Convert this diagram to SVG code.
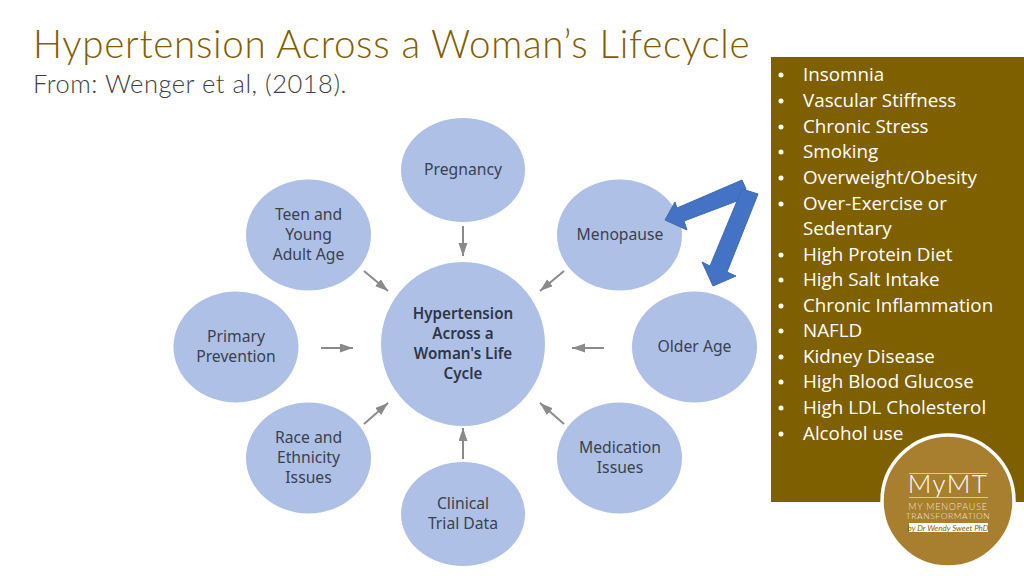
<svg xmlns="http://www.w3.org/2000/svg" width="1024" height="576" viewBox="0 0 1024 576">
<defs>
<marker id="ah" markerUnits="userSpaceOnUse" markerWidth="14" markerHeight="12" refX="13" refY="4.500" orient="auto"><path d="M0 0L13 4.500L0 9Z" fill="#8a8a8a"/></marker>
</defs>
<style>
.c{fill:#aec0e5}
.n{font-size:15.700px;fill:#3a4150;text-anchor:middle;font-family:"Noto Sans","Open Sans",sans-serif}
.b{font-size:15.200px;font-weight:600;fill:#2f3646;text-anchor:middle;font-family:"Noto Sans","Open Sans",sans-serif}
.l{font-size:18.800px;fill:#fff;font-family:"Open Sans","Noto Sans",sans-serif}
.k{stroke:#8a8a8a;stroke-width:2;fill:none;marker-end:url(#ah)}
.a{fill:#4472c4;stroke:#3f69b5;stroke-width:1}
.g{font-family:"Lato","Open Sans",sans-serif;font-weight:300;fill:#fff;text-anchor:middle}
.s{font-family:"Lato","Open Sans",sans-serif;font-weight:300;fill:#efe6d0;text-anchor:middle}
</style>
<rect width="1024" height="576" fill="#fff"/>
<text x="33" y="58" font-family="Lato,'Open Sans',sans-serif" font-weight="300" font-size="38.500" fill="#7f6000" letter-spacing="0.720">Hypertension Across a Woman’s Lifecycle</text>
<text x="33" y="93" font-family="Lato,'Open Sans',sans-serif" font-weight="300" font-size="25.500" fill="#404040" letter-spacing="0.520">From: Wenger et al, (2018).</text>
<g id="connectors">
<path class="k" d="M463 226V256"/>
<path class="k" d="M564 271L540 291"/>
<path class="k" d="M604 348H572"/>
<path class="k" d="M564 424L540 403"/>
<path class="k" d="M463 459V428"/>
<path class="k" d="M364 424L388 403"/>
<path class="k" d="M321 348H353"/>
<path class="k" d="M364 271L388 291"/>
</g>
<g id="center"><circle class="c" cx="463" cy="344" r="82"/>
<text class="b" x="463" y="319">Hypertension</text><text class="b" x="463" y="339">Across a</text><text class="b" x="463" y="359">Woman's Life</text><text class="b" x="463" y="379">Cycle</text></g>
<g id="pregnancy"><ellipse class="c" cx="463" cy="170" rx="62" ry="52"/><text class="n" x="463" y="175">Pregnancy</text></g>
<g id="menopause"><ellipse class="c" cx="619.500" cy="235" rx="62.500" ry="55.500"/><text class="n" x="620" y="240">Menopause</text></g>
<g id="older-age"><ellipse class="c" cx="694.500" cy="347" rx="62.500" ry="55.500"/><text class="n" x="694.500" y="352">Older Age</text></g>
<g id="medication"><ellipse class="c" cx="619.500" cy="458" rx="62.500" ry="55.500"/><text class="n" x="620" y="453">Medication</text><text class="n" x="620" y="473">Issues</text></g>
<g id="clinical"><ellipse class="c" cx="463" cy="514" rx="62" ry="52"/><text class="n" x="463" y="509">Clinical</text><text class="n" x="463" y="529">Trial Data</text></g>
<g id="race"><ellipse class="c" cx="308.500" cy="458" rx="62.500" ry="55.500"/><text class="n" x="308.500" y="443">Race and</text><text class="n" x="308.500" y="463">Ethnicity</text><text class="n" x="308.500" y="483">Issues</text></g>
<g id="primary"><ellipse class="c" cx="236" cy="347" rx="62.500" ry="55.500"/><text class="n" x="236" y="342">Primary</text><text class="n" x="236" y="362">Prevention</text></g>
<g id="teen"><ellipse class="c" cx="308.500" cy="235" rx="62.500" ry="55.500"/><text class="n" x="308.500" y="220">Teen and</text><text class="n" x="308.500" y="240">Young</text><text class="n" x="308.500" y="260">Adult Age</text></g>
<g id="factors">
<rect x="771" y="57" width="253" height="445" fill="#7f6000"/>
<g class="l">
<text x="803" y="81">Insomnia</text><text x="803" y="107">Vascular Stiffness</text><text x="803" y="133">Chronic Stress</text><text x="803" y="158">Smoking</text><text x="803" y="184">Overweight/Obesity</text><text x="803" y="210">Over-Exercise or</text><text x="803" y="235">Sedentary</text><text x="803" y="261">High Protein Diet</text><text x="803" y="286">High Salt Intake</text><text x="803" y="312">Chronic Inflammation</text><text x="803" y="337">NAFLD</text><text x="803" y="363">Kidney Disease</text><text x="803" y="388">High Blood Glucose</text><text x="803" y="414">High LDL Cholesterol</text><text x="803" y="440">Alcohol use</text>
</g>
<g fill="#fff"><circle cx="781" cy="75" r="2.500"/><circle cx="781" cy="101" r="2.500"/><circle cx="781" cy="127" r="2.500"/><circle cx="781" cy="152" r="2.500"/><circle cx="781" cy="178" r="2.500"/><circle cx="781" cy="204" r="2.500"/><circle cx="781" cy="255" r="2.500"/><circle cx="781" cy="280" r="2.500"/><circle cx="781" cy="306" r="2.500"/><circle cx="781" cy="331" r="2.500"/><circle cx="781" cy="357" r="2.500"/><circle cx="781" cy="382" r="2.500"/><circle cx="781" cy="408" r="2.500"/><circle cx="781" cy="434" r="2.500"/></g>
</g>
<g id="blue-arrows">
<path class="a" d="M742 180L746 189L737 201L684 221L687 230L665 220L675 202L677 208Z"/>
<path class="a" d="M742 189L758 194L727 272L736 276L713 286L702 262L710 266Z"/>
</g>
<g id="logo">
<circle cx="948" cy="501" r="66" fill="#a87f2f" stroke="#fff" stroke-width="3.500"/>
<text class="g" x="948" y="493" font-size="26" letter-spacing="1.500">MyMT</text>
<rect x="909" y="473" width="79" height="1" fill="#d9c9a3"/><rect x="909" y="497" width="79" height="1" fill="#d9c9a3"/>
<text class="s" x="948" y="510" font-size="9" letter-spacing="0.800">MY MENOPAUSE</text>
<text class="s" x="948" y="519" font-size="8.500" letter-spacing="0.600">TRANSFORMATION</text>
<rect x="909" y="523" width="79" height="9" fill="#fff"/>
<text x="948" y="531" font-family="Lato,sans-serif" font-size="8" font-style="italic" fill="#7f6000" text-anchor="middle">by Dr Wendy Sweet PhD</text>
</g>
</svg>
